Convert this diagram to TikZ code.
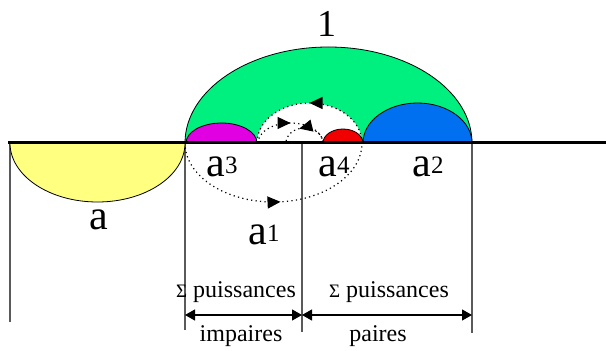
\documentclass[tikz,border=0pt]{standalone}
\usepackage{fontspec}
\setmainfont{Liberation Serif}
\usetikzlibrary{arrows.meta,decorations.markings}
\definecolor{cgreen}{RGB}{0,240,128}
\definecolor{cmag}{RGB}{225,0,225}
\definecolor{cred}{RGB}{240,0,0}
\definecolor{cblue}{RGB}{0,112,240}
\definecolor{cyel}{RGB}{255,255,128}
\definecolor{cgray}{RGB}{90,90,90}
\newcommand{\pw}[2]{{\fontsize{42}{42}\selectfont #1}\raisebox{3.5pt}{\fontsize{25}{25}\selectfont #2}}
\tikzset{
  blob/.style={draw=black,line width=0.8pt},
  spiral/.style={dash pattern=on 1.2pt off 3.3pt,line width=1.2pt,black},
  vline/.style={draw=cgray,line width=1.3pt},
  tipR/.style={decoration={markings,mark=at position #1 with {\arrow[solid]{Triangle[length=13pt,width=12pt]}}},postaction=decorate},
  lab/.style={inner sep=0pt,anchor=base,font=\fontsize{42}{42}\selectfont},
  txt/.style={inner sep=0pt,anchor=base,font=\fontsize{24}{24}\selectfont},
  brack/.style={>={Triangle[length=10pt,width=11pt]},<->,line width=1.2pt}
}
\begin{document}
\begin{tikzpicture}[x=1pt,y=1pt]
\useasboundingbox (0,0) rectangle (606,351);
% vertical lines
\coordinate (t0) at (10,208);  \coordinate (b0) at (10,29);
\coordinate (t1) at (185,208); \coordinate (b1) at (185,21);
\coordinate (t2) at (302,208); \coordinate (b2) at (302,19);
\coordinate (t3) at (472,208); \coordinate (b3) at (472,18);
\draw[vline] (t0) -- (b0);
\draw[vline] (t1) -- (b1);
\draw[vline] (t2) -- (b2);
\draw[vline] (t3) -- (b3);
% yellow
\filldraw[blob,fill=cyel] (10,208) arc[start angle=180,end angle=360,x radius=87.5pt,y radius=59pt] -- cycle;
% green
\filldraw[blob,fill=cgreen] (185,208) arc[start angle=180,end angle=0,x radius=143.5pt,y radius=96pt] -- cycle;
% white inner region
\fill[white] (257,208) arc[start angle=180,end angle=0,x radius=52.5pt,y radius=40pt] -- cycle;
% magenta, blue, red
\filldraw[blob,fill=cmag] (186,208) arc[start angle=180,end angle=0,x radius=35.5pt,y radius=20pt] -- cycle;
\filldraw[blob,fill=cblue] (363,208) arc[start angle=180,end angle=0,x radius=54.5pt,y radius=40pt] -- cycle;
\filldraw[blob,fill=cred] (323,208) arc[start angle=180,end angle=0,x radius=20pt,y radius=14pt] -- cycle;
% spiral
\draw[spiral,tipR=0.53] (185,208) arc[start angle=180,end angle=360,x radius=88.5pt,y radius=59pt];
\draw[spiral,tipR=0.5] (362,208) arc[start angle=0,end angle=180,x radius=52.5pt,y radius=40pt];
\draw[spiral,tipR=0.5] (258,208) arc[start angle=180,end angle=0,x radius=32.5pt,y radius=20pt];
\draw[spiral,tipR=0.6] (323,208) arc[start angle=0,end angle=180,x radius=18.5pt,y radius=15pt];
% baseline
\draw[line width=3pt] (8,208) -- (606,208);
% labels
\node[lab,font=\fontsize{38}{38}\selectfont] (one) at (327,314) {1};
\node[lab] (la) at (99,121) {a};
\node[lab] (la3) at (222,174) {\pw{a}{3}};
\node[lab] (la4) at (334,174) {\pw{a}{4}};
\node[lab] (la2) at (428,174) {\pw{a}{2}};
\node[lab] (la1) at (264,106) {\pw{a}{1}};
% brackets
\coordinate (m1) at (185,36); \coordinate (m2) at (302,36); \coordinate (m3) at (472,36);
\draw[brack] (m1) -- (m2);
\draw[brack] (m2) -- (m3);
\node[txt] (s1) at (236,53) {{\fontsize{19}{19}\selectfont Σ} puissances};
\node[txt] (s2) at (389,53) {{\fontsize{19}{19}\selectfont Σ} puissances};
\node[txt] (imp) at (241,9) {impaires};
\node[txt] (pai) at (378,9) {paires};
\end{tikzpicture}
\end{document}
